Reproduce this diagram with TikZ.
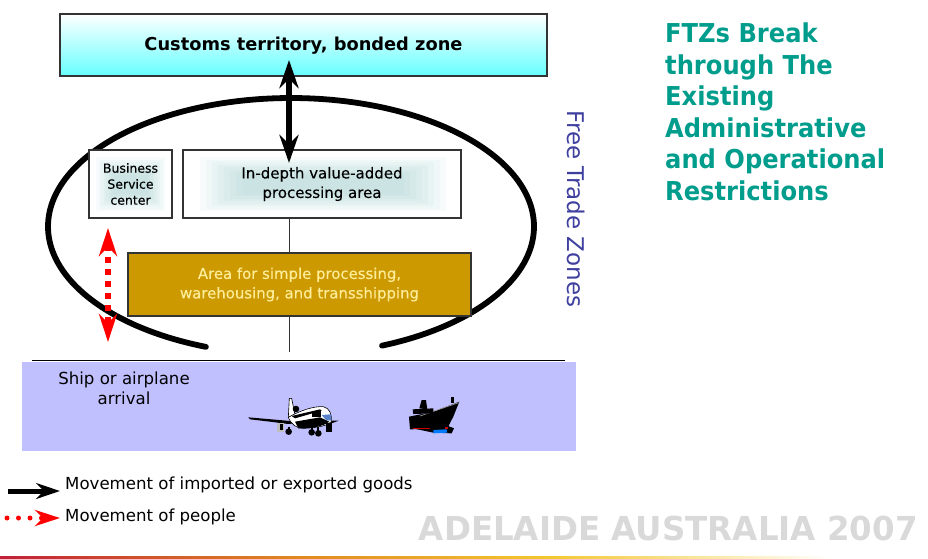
\documentclass[tikz,border=0pt]{standalone}
\usepackage{fontspec}
\setmainfont{DejaVu Sans}
\newfontfamily\titlefont[FakeStretch=0.93]{DejaVu Sans}
\newfontfamily\wmfont[FakeStretch=0.985]{DejaVu Sans}
\newfontfamily\bodyfont[FakeBold=0.25]{DejaVu Sans}
\usetikzlibrary{arrows.meta}
\definecolor{goldbox}{HTML}{CC9900}
\definecolor{goldtext}{HTML}{FFEE99}
\definecolor{teal1}{HTML}{009C8C}
\definecolor{water}{HTML}{C0C0FF}
\definecolor{indigo1}{HTML}{3F3F9F}
\definecolor{cyan1}{HTML}{66FFFF}
\definecolor{mist}{HTML}{8FC8C8}
\definecolor{grayframe}{HTML}{333333}
\tikzset{
  frame/.style={draw=grayframe,line width=1.1pt,inner sep=0pt,align=center,text=black},
  goods/.style={line width=6pt,draw=black,{Stealth[length=28pt,width=19pt,inset=9pt]}-{Stealth[length=28pt,width=19pt,inset=9pt]}},
  people/.style={line width=5.5pt,draw=red,dash pattern=on 6pt off 6pt,{Stealth[length=28pt,width=18pt,inset=9pt,color=red]}-{Stealth[length=28pt,width=18pt,inset=9pt,color=red]}},
  link/.style={draw=grayframe,line width=1pt},
  lbl/.style={inner sep=0pt,anchor=west,font=\fontsize{16.6}{18}\selectfont},
}
\begin{document}
\begin{tikzpicture}[x=1pt,y=-1pt]
\useasboundingbox (0,0) rectangle (928,558);
% bottom band
\definecolor{bandA}{HTML}{C02038}\definecolor{bandB}{HTML}{E08A20}\definecolor{bandC}{HTML}{F2C830}
\shade[left color=bandA,right color=bandB] (0,556.8) rectangle (300,558);
\shade[left color=bandB,right color=bandC] (300,556.8) rectangle (550,558);
\shade[left color=bandC,right color=white] (550,556.8) rectangle (830,558);
% water
\fill[water] (22,362) rectangle (576,451);
\coordinate (shoreL) at (32,360); \coordinate (shoreR) at (565,360);
\draw[black,line width=1pt] (shoreL) -- (shoreR);
% customs
\shade[top color=white,bottom color=cyan1] (60,14) rectangle (547,76);
\node[frame,minimum width=487pt,minimum height=62pt] (customs) at (303.5,45) {};
\node[inner sep=0pt,font=\fontsize{17.8}{20}\selectfont\bfseries] (customstext) at (303.5,45.5) {Customs territory, bonded zone};
% ellipse
\draw[black,line width=5.8pt,line cap=round] plot[domain=68:-249.5,samples=240,smooth] ({291+243*cos(\x)},{226.5+128.5*sin(\x)});
% inner boxes
\node[frame,fill=white,minimum width=83pt,minimum height=68pt] (business) at (130.5,184) {};
\node[frame,fill=white,minimum width=278pt,minimum height=68pt] (indepth) at (322,184) {};
\foreach \i in {0,...,7}{
  \fill[mist,opacity=.07] ({96+\i*2.5},{157+\i*2.5}) rectangle ({165-\i*2.5},{211-\i*2.5});
  \fill[mist,opacity=.07] ({200+\i*6},{157+\i*2.5}) rectangle ({446-\i*6},{211-\i*2.5});
}
\node[frame,draw=none,font=\fontsize{12.5}{16}\bodyfont] (businesstext) at (130.5,184) {Business\\Service\\center};
\node[frame,draw=none,font=\fontsize{15}{19.5}\bodyfont] (indepthtext) at (322,184) {In-depth value-added\\processing area};
\node[frame,fill=goldbox,text=goldtext,minimum width=343pt,minimum height=63pt,font=\fontsize{14.9}{19.5}\bodyfont] (simple) at (299.5,284.5) {Area for simple processing,\\warehousing, and transshipping};
% links
\coordinate (shoreT) at (289,352);
\draw[link] (indepth.south -| shoreT) -- (simple.north -| shoreT);
\draw[link] (simple.south -| shoreT) -- (shoreT);
% arrows
\coordinate (goodsTop) at (289,60); \coordinate (goodsBot) at (289,163);
\draw[goods] (goodsTop) -- (goodsBot);
\coordinate (peopleTop) at (108,228); \coordinate (peopleBot) at (108,342);
\draw[people] (peopleTop) -- (peopleBot);
% labels
\node[rotate=-90,inner sep=0pt,text=indigo1,font=\fontsize{23}{24}\selectfont] (ftz) at (576,209) {Free Trade Zones};
\node[inner sep=0pt,align=center,font=\fontsize{16.6}{20}\selectfont] (arrival) at (124,388) {Ship or airplane\\arrival};
\node[inner sep=0pt,anchor=north west,align=left,text=teal1,font=\fontsize{26}{31.5}\titlefont\bfseries] (title) at (665,23) {FTZs Break\\through The\\Existing\\Administrative\\and Operational\\Restrictions};
\node[inner sep=0pt,anchor=east,text=black!15,font=\fontsize{33}{38}\wmfont\bfseries] (adelaide) at (918,528) {ADELAIDE AUSTRALIA 2007};
% legend
\coordinate (lg1a) at (8,491); \coordinate (lg1b) at (60,491);
\draw[line width=5pt,-{Stealth[length=24pt,width=16pt,inset=8pt]}] (lg1a) -- (lg1b);
\coordinate (lg2a) at (7,518); \coordinate (lg2b) at (60,518);
\draw[red,line width=5pt,line cap=round,dash pattern=on 0pt off 11.5pt,-{Stealth[length=25pt,width=16pt,inset=8pt,color=red]}] (lg2a) -- (lg2b);
\node[lbl] (lg1) at (65,485) {Movement of imported or exported goods};
\node[lbl] (lg2) at (65,517) {Movement of people};
% airplane
\begin{scope}[shift={(220,380)},x=0.3333pt,y=-0.3333pt]
\fill[black] (85,112) -- (200,122) -- (240,128) -- (205,132) -- (150,125) -- (90,118) -- cycle;
\fill[black] (325,122) -- (356,122) -- (335,130) -- cycle;
\fill[white,draw=black,line width=.6pt] (208,55) -- (215,55) -- (225,105) -- (205,112) -- cycle;
\fill[black] (228,87) circle[radius=3.3pt];
\fill[white,draw=black,line width=.6pt] (205,112) .. controls (240,92) and (280,78) .. (310,80) .. controls (330,84) and (336,105) .. (334,125) .. controls (325,135) and (300,143) .. (250,145) .. controls (230,145) and (215,135) .. (205,112) -- cycle;
\fill[black] (225,125) -- (300,112) -- (328,125) .. controls (310,140) and (270,146) .. (235,145) -- cycle;
\fill[black] (215,108) -- (300,88) -- (305,92) -- (225,115) -- cycle;
\fill[cyan!40!blue!70] (305,105) -- (332,103) -- (334,122) -- (318,120) -- cycle;
\fill[black] (276,92) rectangle (302,110);
\fill[black!25] (170,128) rectangle (192,155);
\fill[black] (180,133) rectangle (190,150);
\fill[black] (318,130) rectangle (336,155);
\fill[black] (206,155) circle[radius=3.3pt];
\fill[black] (275,157) circle[radius=3.3pt];
\fill[black] (295,160) circle[radius=3.3pt];
\fill[black] (203,140) rectangle (209,150);
\fill[black] (292,142) rectangle (298,152);
\fill[black] (272,142) rectangle (278,152);
\end{scope}
% ship
\begin{scope}[shift={(220,380)},x=0.3333pt,y=-0.3333pt]
\fill[black] (578,145) -- (640,158) -- (695,160) -- (702,145) -- (680,136) -- (600,140) -- cycle;
\fill[blue!20!cyan!60!blue] (640,150) -- (680,148) -- (682,158) -- (640,160) -- cycle;
\fill[black] (567,110) -- (640,95) -- (718,65) -- (700,110) -- (682,145) -- (570,148) -- cycle;
\draw[white!60!black,line width=.7pt] (600,108) -- (716,68);
\fill[red!80!black] (580,143) rectangle (630,148);
\fill[red!80!black] (675,140) rectangle (685,147);
\fill[black] (578,88) -- (640,85) -- (640,100) -- (580,102) -- cycle;
\fill[black] (598,85) -- (605,60) -- (618,60) -- (622,88) -- cycle;
\fill[black] (694,52) rectangle (701,70);
\end{scope}
\end{tikzpicture}
\end{document}
